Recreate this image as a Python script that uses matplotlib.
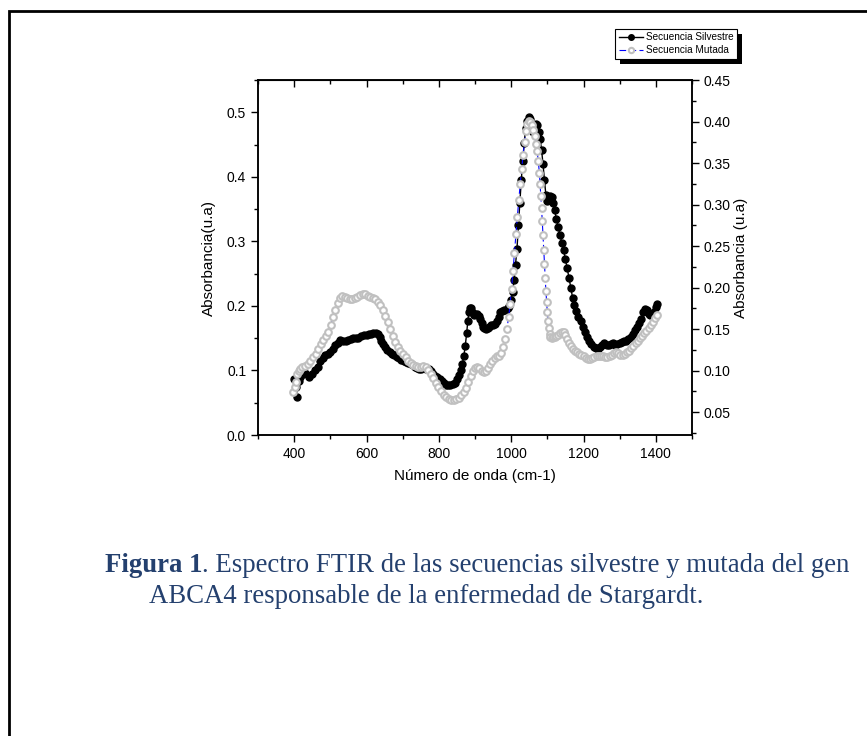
import numpy as np
import matplotlib
matplotlib.use("Agg")
import matplotlib.pyplot as plt
from matplotlib.ticker import MultipleLocator, FormatStrFormatter
from matplotlib.patches import Rectangle

wn_silv = [400, 404, 407, 412, 417, 424, 431, 440, 450, 458,
           465, 472, 479, 486, 493, 500, 507, 514, 521, 528,
           535, 542, 549, 556, 563, 570, 577, 584, 592, 600,
           606, 612, 619, 626, 631, 636, 641, 646, 652, 658,
           665, 671, 677, 684, 690, 696, 703, 709, 715, 722,
           728, 734, 740, 746, 752, 758, 765, 772, 778, 784,
           790, 796, 802, 808, 814, 820, 826, 832, 838, 844,
           850, 855, 860, 865, 869, 873, 877, 880, 883, 886,
           889, 893, 897, 901, 905, 910, 914, 918, 922, 926,
           930, 935, 940, 945, 950, 955, 960, 965, 970, 975,
           980, 985, 990, 995, 1000, 1004, 1008, 1012, 1016, 1020,
           1024, 1028, 1032, 1036, 1040, 1044, 1048, 1052, 1056, 1060,
           1064, 1068, 1072, 1076, 1080, 1084, 1088, 1092, 1096, 1100,
           1104, 1108, 1112, 1116, 1120, 1125, 1130, 1135, 1140, 1145,
           1150, 1155, 1160, 1165, 1170, 1175, 1180, 1186, 1192, 1198,
           1204, 1210, 1216, 1222, 1228, 1234, 1240, 1246, 1252, 1258,
           1264, 1270, 1276, 1282, 1288, 1294, 1300, 1306, 1312, 1318,
           1324, 1330, 1336, 1342, 1348, 1354, 1360, 1365, 1370, 1375,
           1380, 1385, 1390, 1395, 1400, 1404]
abs_silv = [0.086, 0.075, 0.059, 0.084, 0.090, 0.094, 0.096, 0.090, 0.094, 0.100,
            0.106, 0.114, 0.120, 0.124, 0.126, 0.129, 0.134, 0.139, 0.143, 0.147,
            0.146, 0.145, 0.147, 0.148, 0.150, 0.151, 0.150, 0.153, 0.155, 0.155,
            0.157, 0.157, 0.158, 0.158, 0.156, 0.152, 0.146, 0.141, 0.136, 0.132,
            0.129, 0.126, 0.124, 0.121, 0.119, 0.116, 0.114, 0.113, 0.112, 0.110,
            0.108, 0.106, 0.104, 0.103, 0.103, 0.104, 0.103, 0.102, 0.099, 0.095,
            0.092, 0.090, 0.087, 0.084, 0.081, 0.078, 0.077, 0.077, 0.079, 0.081,
            0.086, 0.093, 0.101, 0.110, 0.122, 0.138, 0.158, 0.176, 0.190, 0.197,
            0.196, 0.190, 0.186, 0.188, 0.187, 0.184, 0.180, 0.174, 0.168, 0.166,
            0.165, 0.166, 0.168, 0.170, 0.170, 0.172, 0.177, 0.183, 0.190, 0.192,
            0.193, 0.194, 0.196, 0.200, 0.209, 0.222, 0.240, 0.264, 0.288, 0.325,
            0.360, 0.395, 0.425, 0.452, 0.475, 0.487, 0.492, 0.490, 0.480, 0.470,
            0.476, 0.482, 0.480, 0.470, 0.458, 0.442, 0.420, 0.395, 0.372, 0.362,
            0.366, 0.370, 0.368, 0.360, 0.348, 0.335, 0.322, 0.310, 0.298, 0.286,
            0.272, 0.258, 0.243, 0.228, 0.212, 0.202, 0.192, 0.183, 0.176, 0.168,
            0.160, 0.152, 0.146, 0.141, 0.137, 0.135, 0.134, 0.136, 0.139, 0.142,
            0.140, 0.139, 0.141, 0.142, 0.140, 0.141, 0.143, 0.144, 0.146, 0.146,
            0.149, 0.152, 0.157, 0.162, 0.168, 0.174, 0.180, 0.190, 0.195, 0.193,
            0.188, 0.186, 0.187, 0.190, 0.198, 0.203]

wn_mut = [398, 401, 404, 408, 412, 417, 423, 430, 437, 445,
          452, 459, 466, 473, 480, 487, 494, 501, 508, 514,
          520, 526, 533, 540, 547, 554, 561, 568, 575, 582,
          589, 596, 603, 610, 617, 624, 631, 638, 645, 652,
          659, 666, 673, 680, 687, 694, 701, 708, 715, 722,
          729, 736, 743, 750, 757, 764, 771, 778, 785, 792,
          799, 806, 813, 820, 827, 834, 841, 848, 855, 862,
          869, 876, 882, 888, 894, 900, 906, 912, 918, 924,
          930, 936, 942, 948, 954, 960, 966, 972, 978, 983,
          988, 993, 997, 1001, 1005, 1009, 1013, 1017, 1021, 1025,
          1029, 1033, 1037, 1041, 1045, 1049, 1053, 1057, 1061, 1065,
          1069, 1072, 1075, 1078, 1080, 1082, 1084, 1086, 1088, 1090,
          1092, 1094, 1096, 1098, 1100, 1102, 1104, 1106, 1108, 1112,
          1116, 1120, 1125, 1130, 1135, 1140, 1145, 1150, 1155, 1160,
          1165, 1170, 1176, 1182, 1188, 1194, 1200, 1206, 1212, 1218,
          1224, 1230, 1236, 1242, 1248, 1254, 1260, 1266, 1272, 1278,
          1284, 1290, 1296, 1302, 1308, 1314, 1320, 1326, 1332, 1338,
          1344, 1350, 1356, 1362, 1368, 1374, 1380, 1386, 1392, 1398,
          1403]
abs_mut = [0.074, 0.080, 0.086, 0.096, 0.100, 0.102, 0.104, 0.106, 0.108, 0.112,
           0.116, 0.120, 0.126, 0.132, 0.137, 0.142, 0.147, 0.155, 0.165, 0.173,
           0.181, 0.188, 0.190, 0.189, 0.187, 0.186, 0.186, 0.187, 0.189, 0.191,
           0.192, 0.192, 0.190, 0.189, 0.188, 0.186, 0.183, 0.179, 0.173, 0.166,
           0.158, 0.150, 0.142, 0.135, 0.128, 0.124, 0.120, 0.116, 0.112, 0.109,
           0.107, 0.105, 0.104, 0.104, 0.105, 0.104, 0.101, 0.096, 0.091, 0.085,
           0.080, 0.075, 0.071, 0.068, 0.066, 0.065, 0.065, 0.066, 0.067, 0.070,
           0.074, 0.079, 0.086, 0.093, 0.099, 0.103, 0.104, 0.103, 0.100, 0.098,
           0.099, 0.103, 0.108, 0.112, 0.115, 0.117, 0.118, 0.121, 0.128, 0.138,
           0.150, 0.164, 0.180, 0.198, 0.220, 0.242, 0.264, 0.285, 0.305, 0.325,
           0.343, 0.360, 0.375, 0.388, 0.397, 0.401, 0.400, 0.396, 0.390, 0.383,
           0.373, 0.364, 0.352, 0.338, 0.325, 0.310, 0.296, 0.280, 0.263, 0.245,
           0.228, 0.212, 0.196, 0.182, 0.170, 0.160, 0.151, 0.144, 0.140, 0.139,
           0.140, 0.141, 0.142, 0.143, 0.145, 0.146, 0.146, 0.143, 0.138, 0.133,
           0.129, 0.126, 0.124, 0.122, 0.120, 0.119, 0.117, 0.115, 0.114, 0.114,
           0.115, 0.116, 0.117, 0.118, 0.118, 0.117, 0.116, 0.116, 0.117, 0.119,
           0.121, 0.122, 0.121, 0.119, 0.119, 0.120, 0.122, 0.124, 0.127, 0.130,
           0.133, 0.136, 0.139, 0.142, 0.145, 0.148, 0.151, 0.155, 0.159, 0.163,
           0.167]

caption_bold = "Figura 1"
caption_l1 = ". Espectro FTIR de las secuencias silvestre y mutada del gen"
caption_l2 = "ABCA4 responsable de la enfermedad de Stargardt."

plt.rcParams['font.family'] = ['Liberation Sans', 'DejaVu Sans']

W, H = 867, 736
fig = plt.figure(figsize=(W / 100, H / 100), dpi=100)
ax = fig.add_axes([258 / W, 1 - 435 / H, (692 - 258) / W, (435 - 80) / H])

# ── Serie silvestre (eje izquierdo) ───────────────────────────────────────────
l1, = ax.plot(wn_silv, abs_silv, color='black', lw=1.0, marker='o', ms=5.0,
              mfc='black', mec='black', label='Secuencia Silvestre', zorder=3)
ax.set_xlim(300, 1500)
ax.set_ylim(0, 0.55)
ax.xaxis.set_major_locator(MultipleLocator(200))
ax.xaxis.set_minor_locator(MultipleLocator(100))
ax.yaxis.set_major_locator(MultipleLocator(0.1))
ax.yaxis.set_minor_locator(MultipleLocator(0.05))
ax.yaxis.set_major_formatter(FormatStrFormatter('%.1f'))
ax.tick_params(which='both', direction='out', labelsize=10, width=1.0)
ax.tick_params(which='major', length=5)
ax.tick_params(which='minor', length=3)
ax.set_xlabel('Número de onda (cm-1)', fontsize=11, labelpad=6)
ax.set_ylabel('Absorbancia(u.a)', fontsize=11, labelpad=8)
for s in ax.spines.values():
    s.set_linewidth(1.1)

top = ax.secondary_xaxis('top')
top.xaxis.set_major_locator(MultipleLocator(200))
top.xaxis.set_minor_locator(MultipleLocator(100))
top.tick_params(which='both', direction='in', labeltop=False, width=1.0)
top.tick_params(which='major', length=5)
top.tick_params(which='minor', length=3)

# ── Serie mutada (eje derecho) ────────────────────────────────────────────────
ax2 = ax.twinx()
l2, = ax2.plot(wn_mut, abs_mut, color='blue', lw=0.8, ls=(0, (6, 3)), marker='o',
               ms=4.8, mfc='white', mec='#c0c0c0', mew=1.5,
               label='Secuencia Mutada', zorder=2)
ax2.set_ylim(0.0224, 0.45)
ax2.yaxis.set_major_locator(MultipleLocator(0.05))
ax2.yaxis.set_minor_locator(MultipleLocator(0.025))
ax2.yaxis.set_major_formatter(FormatStrFormatter('%.2f'))
ax2.tick_params(which='both', direction='out', labelsize=10, width=1.0)
ax2.tick_params(which='major', length=5)
ax2.tick_params(which='minor', length=3)
ax2.set_ylabel('Absorbancia (u.a)', fontsize=11, labelpad=2)
for s in ax2.spines.values():
    s.set_linewidth(1.1)

# ── Leyenda con sombra negra ──────────────────────────────────────────────────
leg = fig.legend(handles=[l1, l2], loc='upper left',
                 bbox_to_anchor=(615 / W, 1 - 29 / H), fontsize=7.2,
                 fancybox=False, edgecolor='black', framealpha=1,
                 handlelength=2.4, handletextpad=0.3, borderpad=0.35,
                 labelspacing=0.25, borderaxespad=0, markerscale=0.8)
leg.get_frame().set_linewidth(0.8)

fig.canvas.draw()
bb = leg.get_window_extent()
fig.add_artist(Rectangle(((bb.x0 + 5) / W, (bb.y0 - 5) / H), bb.width / W,
                         bb.height / H, transform=fig.transFigure,
                         facecolor='black', edgecolor='none', zorder=leg.get_zorder() - 0.5))

# ── Marco exterior ────────────────────────────────────────────────────────────
fig.add_artist(Rectangle((9 / W, -0.05), 1.1, 1 - 11 / H + 0.05,
                         transform=fig.transFigure, fill=False,
                         edgecolor='black', lw=2.0))

# ── Pie de figura ─────────────────────────────────────────────────────────────
cap_color = '#24406E'
t0 = fig.text(105 / W, 1 - 572 / H, caption_bold, family='Liberation Serif',
              fontsize=19.3, fontweight='bold', color=cap_color, va='baseline')
fig.canvas.draw()
tb = t0.get_window_extent()
fig.text(tb.x1 / W, 1 - 572 / H, caption_l1, family='Liberation Serif',
         fontsize=19.3, color=cap_color, va='baseline')
fig.text(149 / W, 1 - 603 / H, caption_l2, family='Liberation Serif',
         fontsize=19.3, color=cap_color, va='baseline')

fig.savefig('out.png', dpi=100)
